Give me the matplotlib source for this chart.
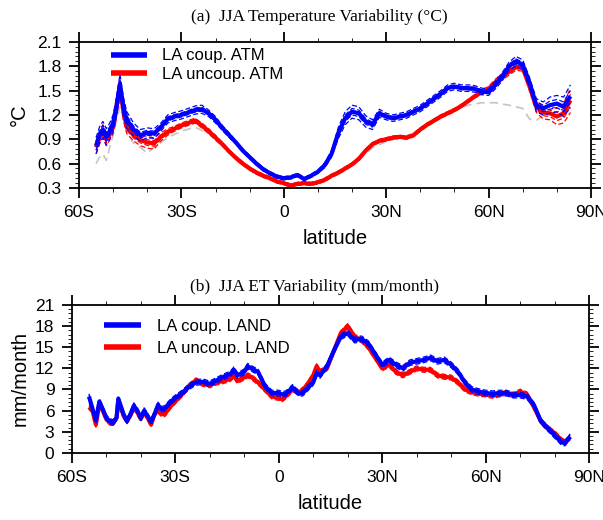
import numpy as np
import matplotlib
matplotlib.use("Agg")
import matplotlib.pyplot as plt
from matplotlib.ticker import MultipleLocator, FixedLocator

# ---- panel (a): JJA temperature variability (deg C) ----
lat_t = [-55, -54, -53, -52, -51, -50, -49, -48, -47, -46,
         -44, -42, -40, -38, -36, -34, -32, -30, -28, -26, -24, -22, -20,
         -18, -16, -14, -12, -10, -8, -6, -4, -2, 0, 2, 4, 6, 8, 10, 12,
         14, 16, 18, 20, 22, 24, 26, 28, 30, 32, 34, 36, 38, 40, 42, 44,
         46, 48, 50, 52, 54, 56, 58, 60, 62, 64, 66, 68, 70, 72, 74, 76,
         78, 80, 82, 84]
coup_atm = [0.82, 0.95, 1.02, 0.93, 1.00, 1.10, 1.30, 1.58, 1.30, 1.14,
            1.02, 0.95, 0.98, 0.97, 1.05, 1.15, 1.18, 1.20, 1.23, 1.26, 1.27, 1.22, 1.14,
            1.04, 0.95, 0.86, 0.76, 0.68, 0.60, 0.53, 0.48, 0.44, 0.42, 0.43, 0.46, 0.41, 0.45, 0.50, 0.58,
            0.72, 0.98, 1.16, 1.24, 1.22, 1.12, 1.08, 1.22, 1.18, 1.16, 1.18, 1.20, 1.24, 1.28, 1.34, 1.40,
            1.46, 1.53, 1.55, 1.53, 1.53, 1.52, 1.49, 1.48, 1.57, 1.67, 1.80, 1.86, 1.82, 1.60, 1.32, 1.28,
            1.32, 1.34, 1.30, 1.43]
uncoup_atm = [0.80, 0.92, 1.00, 0.90, 0.97, 1.05, 1.30, 1.55, 1.25, 1.05,
              0.95, 0.89, 0.86, 0.85, 0.93, 0.99, 1.03, 1.07, 1.10, 1.13, 1.07, 1.00, 0.92,
              0.84, 0.75, 0.67, 0.60, 0.54, 0.49, 0.45, 0.42, 0.38, 0.36, 0.33, 0.35, 0.36, 0.35, 0.37, 0.40,
              0.45, 0.49, 0.54, 0.59, 0.66, 0.76, 0.84, 0.88, 0.90, 0.92, 0.93, 0.92, 0.95, 1.02, 1.08, 1.13,
              1.18, 1.22, 1.26, 1.31, 1.37, 1.43, 1.48, 1.52, 1.60, 1.67, 1.73, 1.79, 1.78, 1.55, 1.30, 1.23,
              1.22, 1.18, 1.22, 1.38]
# ensemble half-spread read from the dashed members
coup_atm_spread = [0.10, 0.10, 0.10, 0.10, 0.10, 0.10, 0.12, 0.12, 0.12, 0.10,
                   0.08, 0.07, 0.06, 0.06, 0.05, 0.05, 0.05, 0.05, 0.05, 0.05, 0.05, 0.04, 0.04,
                   0.03, 0.03, 0.02, 0.02, 0.02, 0.02, 0.02, 0.02, 0.02, 0.02, 0.02, 0.02, 0.02, 0.02, 0.02, 0.03,
                   0.04, 0.07, 0.08, 0.08, 0.08, 0.07, 0.06, 0.05, 0.04, 0.04, 0.04, 0.04, 0.04, 0.04, 0.04, 0.04,
                   0.04, 0.04, 0.04, 0.04, 0.04, 0.04, 0.04, 0.04, 0.05, 0.05, 0.05, 0.06, 0.06, 0.06, 0.08, 0.08,
                   0.10, 0.10, 0.12, 0.14]
uncoup_atm_spread = [0.08, 0.08, 0.08, 0.08, 0.08, 0.08, 0.12, 0.12, 0.12, 0.08,
                     0.07, 0.07, 0.07, 0.07, 0.05, 0.04, 0.03, 0.03, 0.03, 0.03, 0.03, 0.03, 0.03,
                     0.02, 0.02, 0.02, 0.02, 0.02, 0.02, 0.02, 0.02, 0.02, 0.02, 0.02, 0.02, 0.02, 0.02, 0.02, 0.02,
                     0.02, 0.02, 0.02, 0.02, 0.02, 0.02, 0.02, 0.02, 0.02, 0.02, 0.02, 0.02, 0.02, 0.02, 0.02, 0.02,
                     0.02, 0.02, 0.02, 0.02, 0.02, 0.02, 0.03, 0.03, 0.04, 0.04, 0.04, 0.04, 0.04, 0.05, 0.07, 0.08,
                     0.08, 0.10, 0.12, 0.15]
lat_obs = [-55, -54, -53, -52, -51, -50, -48, -46, -44, -42, -40, -38,
           -34, -30, -26, -22, -18, -14, -10, -6, -2, 2, 6, 10, 14, 18,
           22, 26, 30, 34, 38, 42, 46, 50, 54, 58, 62, 66, 70, 72, 74, 76]
obs_atm = [0.60, 0.68, 0.72, 0.64, 0.80, 0.95, 1.30, 1.00, 0.85, 0.80, 0.73, 0.80,
           0.92, 1.00, 1.05, 0.97, 0.82, 0.65, 0.52, 0.43, 0.37, 0.33, 0.35, 0.36, 0.43, 0.52,
           0.64, 0.80, 0.87, 0.92, 0.97, 1.06, 1.16, 1.26, 1.32, 1.35, 1.35, 1.32, 1.28, 1.15, 1.13, 1.20]

# ---- panel (b): JJA ET variability (mm/month) ----
lat_e = [-55, -54, -53, -52, -51, -50, -49, -48, -47, -46.5, -45, -44, -43,
         -42, -41, -40, -39, -38, -37, -36, -35, -34, -33, -32, -31, -30,
         -28, -26, -24, -22, -20, -18, -16, -14, -13, -12, -10, -9, -8,
         -6, -4, -2, 0, 1, 2, 3, 4, 5, 6, 7, 8, 10, 11, 12, 14, 16, 18,
         20, 22, 24, 26, 28, 30, 32, 34, 36, 38, 40, 42, 44, 46, 48, 50,
         52, 54, 56, 58, 60, 62, 64, 66, 68, 70, 72, 74, 76, 78, 80, 82,
         83, 84, 84.5]
coup_land = [8.0, 6.3, 4.6, 7.3, 6.2, 5.0, 4.5, 4.3, 5.0, 7.7, 5.5, 4.5, 5.5,
             6.7, 6.0, 5.0, 6.0, 5.2, 4.4, 5.5, 6.8, 6.2, 6.3, 6.9, 7.4, 7.8,
             8.5, 9.4, 10.0, 10.1, 9.8, 10.3, 10.8, 11.2, 11.8, 11.0, 11.5, 12.3, 12.0,
             11.5, 9.5, 8.5, 8.5, 8.3, 8.4, 8.8, 9.3, 8.8, 8.4, 8.5, 9.0, 10.0, 11.3, 11.0, 12.3, 14.5, 16.5,
             17.0, 16.0, 16.2, 15.5, 14.0, 12.5, 13.2, 12.5, 12.0, 12.8, 13.0, 13.2, 13.5, 13.0, 13.2, 12.5,
             11.5, 10.0, 9.0, 8.7, 8.5, 8.4, 8.5, 8.5, 8.2, 8.2, 8.0, 6.8, 4.5, 3.5, 2.5, 1.5,
             1.4, 2.0, 2.3]
uncoup_land = [6.5, 6.0, 4.0, 7.0, 6.0, 4.8, 4.3, 4.2, 5.0, 7.5, 5.3, 4.5, 5.3,
               6.4, 5.8, 4.8, 5.8, 5.0, 4.0, 5.5, 6.0, 5.5, 5.5, 6.2, 6.8, 7.3,
               8.3, 9.5, 10.3, 9.8, 9.6, 10.0, 10.2, 10.5, 11.0, 10.2, 10.7, 11.0, 10.8,
               10.0, 9.0, 8.0, 7.8, 7.6, 8.0, 8.5, 9.0, 8.8, 8.5, 9.0, 9.5, 11.0, 12.3, 11.5, 12.0, 14.5, 17.0,
               18.0, 16.5, 16.0, 15.0, 13.5, 12.0, 12.5, 11.5, 11.0, 11.5, 12.0, 11.8, 11.8, 11.0, 10.8, 10.7,
               10.0, 9.0, 8.6, 8.4, 8.3, 8.1, 8.3, 8.5, 8.2, 8.7, 8.3, 6.5, 4.5, 3.5, 2.8, 1.8,
               1.5, 2.0, 2.3]
coup_land_spread = 0.4
uncoup_land_spread = 0.35

lat_ticks = [-60, -30, 0, 30, 60, 90]
lat_labels = ["60S", "30S", "0", "30N", "60N", "90N"]

BLUE = "#0000ff"
RED = "#ff0000"
plt.rcParams["font.family"] = ["Liberation Sans", "DejaVu Sans"]


def style_axes(ax, ymin, ymax, ystep, yminor):
    ax.set_xlim(-60, 90)
    ax.set_ylim(ymin, ymax)
    ax.xaxis.set_major_locator(FixedLocator(lat_ticks))
    ax.set_xticklabels(lat_labels)
    ax.xaxis.set_minor_locator(MultipleLocator(10))
    ax.yaxis.set_major_locator(MultipleLocator(ystep))
    ax.yaxis.set_minor_locator(MultipleLocator(yminor))
    ax.tick_params(which="both", direction="out", top=True, right=True,
                   labelsize=12.5, pad=5)
    ax.tick_params(which="major", length=7.5, width=1.3)
    ax.tick_params(which="minor", length=3, width=0.6)
    for s in ax.spines.values():
        s.set_linewidth(1.3)
    ax.set_xlabel("latitude", fontsize=14.5, labelpad=6)


def draw_ensemble(ax, lat, mean, spread, color, label):
    lat = np.asarray(lat)
    mean = np.asarray(mean)
    spread = np.asarray(spread)
    for k in (-1.0, -0.5, 0.5, 1.0):
        ax.plot(lat, mean + k * spread, color=color, lw=0.9, ls=(0, (4, 2)))
    ax.plot(lat, mean, color=color, lw=3.0, label=label, solid_capstyle="butt")


fig = plt.figure(figsize=(6.03, 5.2), dpi=100)
ax1 = fig.add_axes([0.131, 0.6385, 0.849, 0.281])
ax2 = fig.add_axes([0.119, 0.129, 0.858, 0.2846])

# panel (a)
ax1.plot(lat_obs, obs_atm, color="#c4c4c4", lw=1.2, ls=(0, (5, 3)))
draw_ensemble(ax1, lat_t, uncoup_atm, uncoup_atm_spread, RED, "LA uncoup. ATM")
draw_ensemble(ax1, lat_t, coup_atm, coup_atm_spread, BLUE, "LA coup. ATM")
style_axes(ax1, 0.3, 2.1, 0.3, 0.06)
ax1.set_yticklabels([f"{v:.1f}" for v in ax1.get_yticks()])
ax1.set_ylabel("°C", fontsize=14.5, labelpad=6)
ax1.set_title("(a)  JJA Temperature Variability (°C)", family="Liberation Serif",
              fontsize=12.5, pad=15, x=0.47)
h, l = ax1.get_legend_handles_labels()
leg = ax1.legend(h[::-1], l[::-1], loc="upper left", bbox_to_anchor=(0.062, 0.955),
                 frameon=False, fontsize=12, handlelength=2.2, handletextpad=0.9,
                 labelspacing=0.2, borderaxespad=0, borderpad=0)
for ln in leg.get_lines():
    ln.set_linewidth(4)

# panel (b)
draw_ensemble(ax2, lat_e, uncoup_land, np.full(len(lat_e), uncoup_land_spread), RED, "LA uncoup. LAND")
draw_ensemble(ax2, lat_e, coup_land, np.full(len(lat_e), coup_land_spread), BLUE, "LA coup. LAND")
style_axes(ax2, 0, 21, 3, 0.6)
ax2.set_ylabel("mm/month", fontsize=14.5, labelpad=4)
ax2.set_title("(b)  JJA ET Variability (mm/month)", family="Liberation Serif",
              fontsize=12.5, pad=10, x=0.47)
h, l = ax2.get_legend_handles_labels()
leg = ax2.legend(h[::-1], l[::-1], loc="upper left", bbox_to_anchor=(0.062, 0.905),
                 frameon=False, fontsize=12, handlelength=2.2, handletextpad=1.0,
                 labelspacing=0.4, borderaxespad=0, borderpad=0)
for ln in leg.get_lines():
    ln.set_linewidth(4)

fig.savefig("out.png", dpi=100)
